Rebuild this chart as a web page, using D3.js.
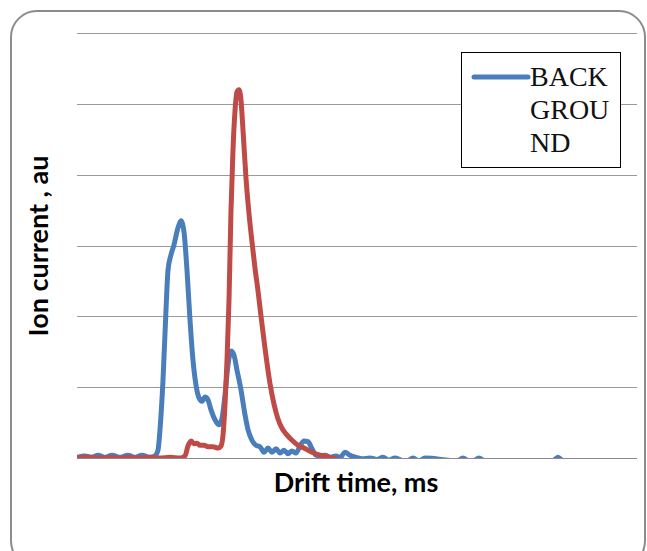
<!DOCTYPE html>
<html>
<head>
<meta charset="utf-8">
<script src="https://cdn.jsdelivr.net/npm/d3@7"></script>
<style>
body { margin: 0; background: #fff; }
</style>
</head>
<body>
<div id="chart"></div>
<script>
// drift time (arbitrary units) and ion current
var blueX = [0, 8, 15, 21, 28, 35, 43, 51, 58, 65, 73, 78,
	81, 83, 86, 89, 91, 94, 97, 101, 104, 107, 110, 113, 116, 119, 122, 125, 128, 131, 134, 138, 142,
	145, 148, 151, 154, 157, 160, 164, 168, 171, 175, 179, 183, 187, 191, 195, 199, 203, 207, 211,
	215, 219, 223, 227, 231, 235, 239, 243, 248, 253, 259, 263, 268, 273, 279, 285, 293, 300, 306,
	312, 318, 324, 330, 336, 342, 348, 380, 386, 392, 396, 402, 408, 476, 481, 486, 560];
var blueY = [0.01, 0.03, 0.01, 0.04, 0.01, 0.04, 0.01, 0.04, 0.01, 0.04, 0.01, 0.03,
	0.11, 0.40, 1.10, 2.09, 2.65, 2.87, 3.01, 3.25, 3.35, 3.19, 2.65, 1.95, 1.38, 1.03, 0.85, 0.80, 0.86, 0.82, 0.68, 0.54, 0.47,
	0.56, 0.89, 1.31, 1.51, 1.45, 1.24, 0.96, 0.61, 0.40, 0.25, 0.18, 0.16, 0.08, 0.14, 0.08, 0.13, 0.07, 0.11, 0.06,
	0.10, 0.07, 0.17, 0.24, 0.23, 0.13, 0.04, 0.03, 0.04, 0.01, 0.03, 0.01, 0.08, 0.04, 0.01, -0.01, 0.0, -0.02, 0.01,
	-0.03, 0.0, -0.03, -0.04, 0.0, -0.04, 0.0, -0.04, 0.0, -0.04, -0.04, 0.0, -0.04, -0.04, 0.01, -0.04, -0.04];

var redX = [0, 13, 23, 33, 43, 53, 63, 73, 83, 93, 103, 108, 111, 114, 117, 120, 123, 127, 131, 136,
	141, 144, 146, 148, 150, 152, 154, 156, 158, 160, 162, 164, 166, 169, 172, 175, 178, 181, 184, 188,
	193, 197, 201, 205, 209, 215, 221, 227, 235, 243, 253, 260];
var redY = [0, 0.01, 0, 0.01, 0, 0.01, 0, 0.01, 0, 0.01, 0, 0.03, 0.17, 0.24, 0.20, 0.21, 0.18, 0.18, 0.16, 0.16,
	0.14, 0.17, 0.32, 0.75, 1.38, 2.23, 3.50, 4.35, 4.90, 5.17, 5.20, 5.05, 4.63, 3.95, 3.45, 3.05, 2.68, 2.36, 2.00, 1.55,
	1.05, 0.76, 0.55, 0.42, 0.34, 0.25, 0.18, 0.14, 0.08, 0.04, 0.01, -0.02];

var gridValues = [1, 2, 3, 4, 5, 6];
var legendLines = ['BACK', 'GROU', 'ND'];

var w = 647;
var h = 551;
var plotLeft = 77, plotRight = 637, plotTop = 33, plotBottom = 458;

var svg = d3.select('#chart')
	.append('svg')
	.attr('width', w)
	.attr('height', h);

svg.append('rect')
	.attr('x', 11)
	.attr('y', 11)
	.attr('width', 634)
	.attr('height', 556)
	.attr('rx', 26)
	.attr('fill', '#fff')
	.attr('stroke', '#8c8c8c')
	.attr('stroke-width', 2);

svg.append('clipPath')
	.attr('id', 'plotClip')
	.append('rect')
	.attr('x', plotLeft)
	.attr('y', 0)
	.attr('width', plotRight - plotLeft)
	.attr('height', plotBottom + 0.5);

var xScale = d3.scaleLinear()
	.domain([0, 560])
	.range([plotLeft, plotRight]);
var yScale = d3.scaleLinear()
	.domain([0, 6])
	.range([plotBottom, plotTop]);

svg.selectAll('line.grid')
	.data(gridValues)
	.enter()
	.append('line')
	.attr('class', 'grid')
	.attr('x1', plotLeft)
	.attr('x2', plotRight)
	.attr('y1', function (d) { return Math.round(yScale(d)) + 0.5; })
	.attr('y2', function (d) { return Math.round(yScale(d)) + 0.5; })
	.attr('stroke', '#9a9a9a')
	.attr('stroke-width', 1);

var line = d3.line()
	.x(function (d) { return xScale(d[0]); })
	.y(function (d) { return yScale(d[1]); })
	.curve(d3.curveMonotoneX);

var redData = d3.zip(redX, redY);
var blueData = d3.zip(blueX, blueY);

var plot = svg.append('g').attr('clip-path', 'url(#plotClip)');

plot.append('path')
	.datum(blueData)
	.attr('d', line)
	.attr('fill', 'none')
	.attr('stroke', '#4a7ebb')
	.attr('stroke-width', 5)
	.attr('stroke-linejoin', 'round');

plot.append('path')
	.datum(redData)
	.attr('d', line)
	.attr('fill', 'none')
	.attr('stroke', '#be4b48')
	.attr('stroke-width', 5)
	.attr('stroke-linejoin', 'round');

// horizontal axis line
svg.append('line')
	.attr('x1', plotLeft)
	.attr('x2', plotRight)
	.attr('y1', Math.round(yScale(0)) + 0.5)
	.attr('y2', Math.round(yScale(0)) + 0.5)
	.attr('stroke', '#8a8a8a')
	.attr('stroke-width', 1);

// legend
svg.append('rect')
	.attr('x', 461.5)
	.attr('y', 52.5)
	.attr('width', 159)
	.attr('height', 115)
	.attr('fill', '#fff')
	.attr('stroke', '#000')
	.attr('stroke-width', 1);
svg.append('line')
	.attr('x1', 474)
	.attr('x2', 528)
	.attr('y1', 77)
	.attr('y2', 77)
	.attr('stroke', '#4a7ebb')
	.attr('stroke-width', 5)
	.attr('stroke-linecap', 'round');
svg.selectAll('text.legend')
	.data(legendLines)
	.enter()
	.append('text')
	.attr('class', 'legend')
	.attr('x', 530)
	.attr('y', function (d, i) { return 86 + i * 33; })
	.attr('font-family', 'Liberation Serif, serif')
	.attr('font-size', '28px')
	.attr('fill', '#111')
	.text(function (d) { return d; });

// axis titles
svg.append('text')
	.attr('x', 356)
	.attr('y', 492)
	.attr('text-anchor', 'middle')
	.attr('font-family', 'Lato, sans-serif')
	.attr('font-weight', 'bold')
	.attr('font-size', '27px')
	.attr('fill', '#000')
	.text('Drift time, ms');

svg.append('text')
	.attr('transform', 'translate(48,246) rotate(-90)')
	.attr('text-anchor', 'middle')
	.attr('font-family', 'Lato, sans-serif')
	.attr('font-weight', 'bold')
	.attr('font-size', '27px')
	.attr('fill', '#000')
	.text('Ion current , au');
</script>
</body>
</html>
